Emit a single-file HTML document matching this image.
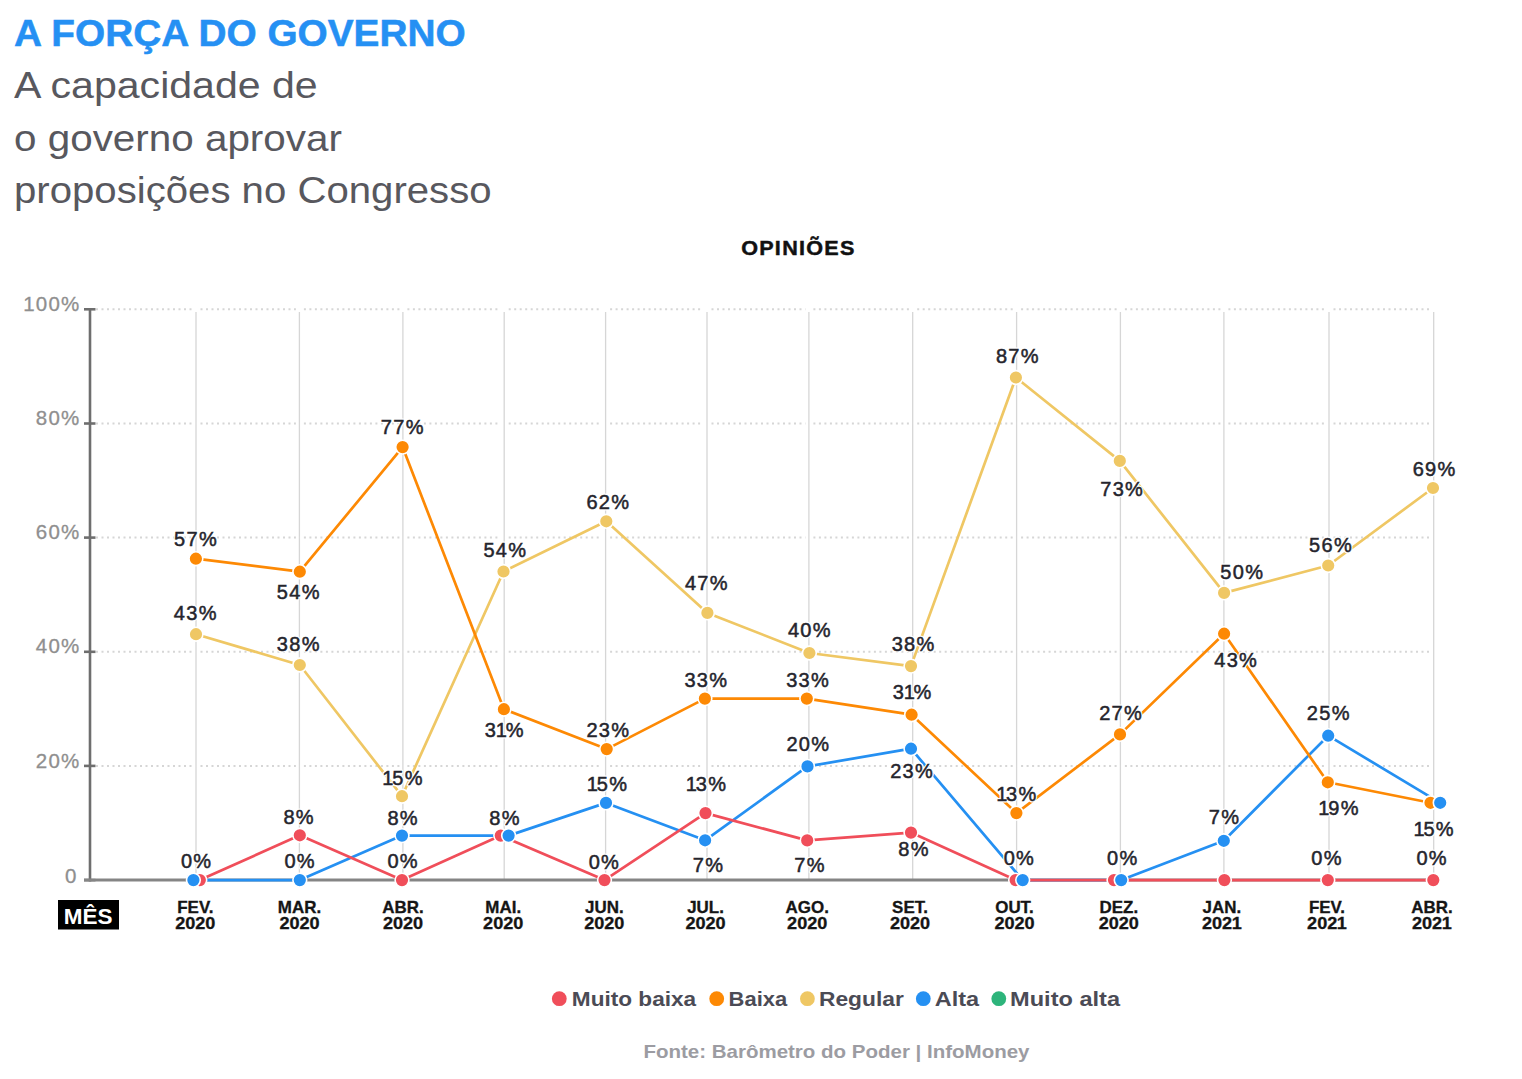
<!DOCTYPE html>
<html lang="pt-BR">
<head>
<meta charset="utf-8">
<title>A força do governo</title>
<style>
html,body{margin:0;padding:0;background:#fff;}
body{width:1522px;height:1079px;overflow:hidden;position:relative;font-family:"Liberation Sans",sans-serif;}
.t{position:absolute;white-space:nowrap;margin:0;transform-origin:0 0;}
#title{left:13.5px;top:11.9px;font-size:36px;font-weight:bold;color:#2590f3;line-height:44px;letter-spacing:0px;transform:scaleX(1.077);-webkit-text-stroke:0.5px #2590f3;}
.sub{left:13.5px;font-size:37px;color:#58585e;line-height:44px;}
#s1{top:63.6px;letter-spacing:0px;transform:scaleX(1.11);}
#s2{top:116.6px;letter-spacing:0px;transform:scaleX(1.092);}
#s3{top:168.8px;letter-spacing:0px;transform:scaleX(1.085);}
svg{position:absolute;left:0;top:0;}

</style>
</head>
<body>
<h1 class="t" id="title">A FORÇA DO GOVERNO</h1>
<div class="t sub" id="s1">A capacidade de</div>
<div class="t sub" id="s2">o governo aprovar</div>
<div class="t sub" id="s3">proposições no Congresso</div>
<svg width="1522" height="1079" viewBox="0 0 1522 1079" font-family="Liberation Sans, sans-serif">
<text transform="translate(798.4,255.3) scale(1.08,1)" text-anchor="middle" font-size="20" font-weight="bold" fill="#111" stroke="#111" stroke-width="0.45" letter-spacing="1.18">OPINIÕES</text>
<line x1="96.0" y1="765.9" x2="192.5" y2="765.9" stroke="#d6d6d6" stroke-width="2" stroke-dasharray="2 3.5"/>
<line x1="200.5" y1="765.9" x2="295.9" y2="765.9" stroke="#d6d6d6" stroke-width="2" stroke-dasharray="2 3.5"/>
<line x1="303.9" y1="765.9" x2="399.4" y2="765.9" stroke="#d6d6d6" stroke-width="2" stroke-dasharray="2 3.5"/>
<line x1="407.4" y1="765.9" x2="500.7" y2="765.9" stroke="#d6d6d6" stroke-width="2" stroke-dasharray="2 3.5"/>
<line x1="508.7" y1="765.9" x2="602.1" y2="765.9" stroke="#d6d6d6" stroke-width="2" stroke-dasharray="2 3.5"/>
<line x1="610.1" y1="765.9" x2="703.5" y2="765.9" stroke="#d6d6d6" stroke-width="2" stroke-dasharray="2 3.5"/>
<line x1="711.5" y1="765.9" x2="805.4" y2="765.9" stroke="#d6d6d6" stroke-width="2" stroke-dasharray="2 3.5"/>
<line x1="813.4" y1="765.9" x2="909.2" y2="765.9" stroke="#d6d6d6" stroke-width="2" stroke-dasharray="2 3.5"/>
<line x1="917.2" y1="765.9" x2="1013.1" y2="765.9" stroke="#d6d6d6" stroke-width="2" stroke-dasharray="2 3.5"/>
<line x1="1021.1" y1="765.9" x2="1116.9" y2="765.9" stroke="#d6d6d6" stroke-width="2" stroke-dasharray="2 3.5"/>
<line x1="1124.9" y1="765.9" x2="1220.4" y2="765.9" stroke="#d6d6d6" stroke-width="2" stroke-dasharray="2 3.5"/>
<line x1="1228.4" y1="765.9" x2="1325.5" y2="765.9" stroke="#d6d6d6" stroke-width="2" stroke-dasharray="2 3.5"/>
<line x1="1333.5" y1="765.9" x2="1430.2" y2="765.9" stroke="#d6d6d6" stroke-width="2" stroke-dasharray="2 3.5"/>
<line x1="96.0" y1="651.8" x2="192.5" y2="651.8" stroke="#d6d6d6" stroke-width="2" stroke-dasharray="2 3.5"/>
<line x1="200.5" y1="651.8" x2="295.9" y2="651.8" stroke="#d6d6d6" stroke-width="2" stroke-dasharray="2 3.5"/>
<line x1="303.9" y1="651.8" x2="399.4" y2="651.8" stroke="#d6d6d6" stroke-width="2" stroke-dasharray="2 3.5"/>
<line x1="407.4" y1="651.8" x2="500.7" y2="651.8" stroke="#d6d6d6" stroke-width="2" stroke-dasharray="2 3.5"/>
<line x1="508.7" y1="651.8" x2="602.1" y2="651.8" stroke="#d6d6d6" stroke-width="2" stroke-dasharray="2 3.5"/>
<line x1="610.1" y1="651.8" x2="703.5" y2="651.8" stroke="#d6d6d6" stroke-width="2" stroke-dasharray="2 3.5"/>
<line x1="711.5" y1="651.8" x2="805.4" y2="651.8" stroke="#d6d6d6" stroke-width="2" stroke-dasharray="2 3.5"/>
<line x1="813.4" y1="651.8" x2="909.2" y2="651.8" stroke="#d6d6d6" stroke-width="2" stroke-dasharray="2 3.5"/>
<line x1="917.2" y1="651.8" x2="1013.1" y2="651.8" stroke="#d6d6d6" stroke-width="2" stroke-dasharray="2 3.5"/>
<line x1="1021.1" y1="651.8" x2="1116.9" y2="651.8" stroke="#d6d6d6" stroke-width="2" stroke-dasharray="2 3.5"/>
<line x1="1124.9" y1="651.8" x2="1220.4" y2="651.8" stroke="#d6d6d6" stroke-width="2" stroke-dasharray="2 3.5"/>
<line x1="1228.4" y1="651.8" x2="1325.5" y2="651.8" stroke="#d6d6d6" stroke-width="2" stroke-dasharray="2 3.5"/>
<line x1="1333.5" y1="651.8" x2="1430.2" y2="651.8" stroke="#d6d6d6" stroke-width="2" stroke-dasharray="2 3.5"/>
<line x1="96.0" y1="537.6" x2="192.5" y2="537.6" stroke="#d6d6d6" stroke-width="2" stroke-dasharray="2 3.5"/>
<line x1="200.5" y1="537.6" x2="295.9" y2="537.6" stroke="#d6d6d6" stroke-width="2" stroke-dasharray="2 3.5"/>
<line x1="303.9" y1="537.6" x2="399.4" y2="537.6" stroke="#d6d6d6" stroke-width="2" stroke-dasharray="2 3.5"/>
<line x1="407.4" y1="537.6" x2="500.7" y2="537.6" stroke="#d6d6d6" stroke-width="2" stroke-dasharray="2 3.5"/>
<line x1="508.7" y1="537.6" x2="602.1" y2="537.6" stroke="#d6d6d6" stroke-width="2" stroke-dasharray="2 3.5"/>
<line x1="610.1" y1="537.6" x2="703.5" y2="537.6" stroke="#d6d6d6" stroke-width="2" stroke-dasharray="2 3.5"/>
<line x1="711.5" y1="537.6" x2="805.4" y2="537.6" stroke="#d6d6d6" stroke-width="2" stroke-dasharray="2 3.5"/>
<line x1="813.4" y1="537.6" x2="909.2" y2="537.6" stroke="#d6d6d6" stroke-width="2" stroke-dasharray="2 3.5"/>
<line x1="917.2" y1="537.6" x2="1013.1" y2="537.6" stroke="#d6d6d6" stroke-width="2" stroke-dasharray="2 3.5"/>
<line x1="1021.1" y1="537.6" x2="1116.9" y2="537.6" stroke="#d6d6d6" stroke-width="2" stroke-dasharray="2 3.5"/>
<line x1="1124.9" y1="537.6" x2="1220.4" y2="537.6" stroke="#d6d6d6" stroke-width="2" stroke-dasharray="2 3.5"/>
<line x1="1228.4" y1="537.6" x2="1325.5" y2="537.6" stroke="#d6d6d6" stroke-width="2" stroke-dasharray="2 3.5"/>
<line x1="1333.5" y1="537.6" x2="1430.2" y2="537.6" stroke="#d6d6d6" stroke-width="2" stroke-dasharray="2 3.5"/>
<line x1="96.0" y1="423.5" x2="192.5" y2="423.5" stroke="#d6d6d6" stroke-width="2" stroke-dasharray="2 3.5"/>
<line x1="200.5" y1="423.5" x2="295.9" y2="423.5" stroke="#d6d6d6" stroke-width="2" stroke-dasharray="2 3.5"/>
<line x1="303.9" y1="423.5" x2="399.4" y2="423.5" stroke="#d6d6d6" stroke-width="2" stroke-dasharray="2 3.5"/>
<line x1="407.4" y1="423.5" x2="500.7" y2="423.5" stroke="#d6d6d6" stroke-width="2" stroke-dasharray="2 3.5"/>
<line x1="508.7" y1="423.5" x2="602.1" y2="423.5" stroke="#d6d6d6" stroke-width="2" stroke-dasharray="2 3.5"/>
<line x1="610.1" y1="423.5" x2="703.5" y2="423.5" stroke="#d6d6d6" stroke-width="2" stroke-dasharray="2 3.5"/>
<line x1="711.5" y1="423.5" x2="805.4" y2="423.5" stroke="#d6d6d6" stroke-width="2" stroke-dasharray="2 3.5"/>
<line x1="813.4" y1="423.5" x2="909.2" y2="423.5" stroke="#d6d6d6" stroke-width="2" stroke-dasharray="2 3.5"/>
<line x1="917.2" y1="423.5" x2="1013.1" y2="423.5" stroke="#d6d6d6" stroke-width="2" stroke-dasharray="2 3.5"/>
<line x1="1021.1" y1="423.5" x2="1116.9" y2="423.5" stroke="#d6d6d6" stroke-width="2" stroke-dasharray="2 3.5"/>
<line x1="1124.9" y1="423.5" x2="1220.4" y2="423.5" stroke="#d6d6d6" stroke-width="2" stroke-dasharray="2 3.5"/>
<line x1="1228.4" y1="423.5" x2="1325.5" y2="423.5" stroke="#d6d6d6" stroke-width="2" stroke-dasharray="2 3.5"/>
<line x1="1333.5" y1="423.5" x2="1430.2" y2="423.5" stroke="#d6d6d6" stroke-width="2" stroke-dasharray="2 3.5"/>
<line x1="96.0" y1="309.3" x2="192.5" y2="309.3" stroke="#d6d6d6" stroke-width="2" stroke-dasharray="2 3.5"/>
<line x1="200.5" y1="309.3" x2="295.9" y2="309.3" stroke="#d6d6d6" stroke-width="2" stroke-dasharray="2 3.5"/>
<line x1="303.9" y1="309.3" x2="399.4" y2="309.3" stroke="#d6d6d6" stroke-width="2" stroke-dasharray="2 3.5"/>
<line x1="407.4" y1="309.3" x2="500.7" y2="309.3" stroke="#d6d6d6" stroke-width="2" stroke-dasharray="2 3.5"/>
<line x1="508.7" y1="309.3" x2="602.1" y2="309.3" stroke="#d6d6d6" stroke-width="2" stroke-dasharray="2 3.5"/>
<line x1="610.1" y1="309.3" x2="703.5" y2="309.3" stroke="#d6d6d6" stroke-width="2" stroke-dasharray="2 3.5"/>
<line x1="711.5" y1="309.3" x2="805.4" y2="309.3" stroke="#d6d6d6" stroke-width="2" stroke-dasharray="2 3.5"/>
<line x1="813.4" y1="309.3" x2="909.2" y2="309.3" stroke="#d6d6d6" stroke-width="2" stroke-dasharray="2 3.5"/>
<line x1="917.2" y1="309.3" x2="1013.1" y2="309.3" stroke="#d6d6d6" stroke-width="2" stroke-dasharray="2 3.5"/>
<line x1="1021.1" y1="309.3" x2="1116.9" y2="309.3" stroke="#d6d6d6" stroke-width="2" stroke-dasharray="2 3.5"/>
<line x1="1124.9" y1="309.3" x2="1220.4" y2="309.3" stroke="#d6d6d6" stroke-width="2" stroke-dasharray="2 3.5"/>
<line x1="1228.4" y1="309.3" x2="1325.5" y2="309.3" stroke="#d6d6d6" stroke-width="2" stroke-dasharray="2 3.5"/>
<line x1="1333.5" y1="309.3" x2="1430.2" y2="309.3" stroke="#d6d6d6" stroke-width="2" stroke-dasharray="2 3.5"/>
<line x1="196" y1="312" x2="196" y2="880.1" stroke="#d6d6d6" stroke-width="1.3"/>
<line x1="299.4" y1="312" x2="299.4" y2="880.1" stroke="#d6d6d6" stroke-width="1.3"/>
<line x1="402.9" y1="312" x2="402.9" y2="880.1" stroke="#d6d6d6" stroke-width="1.3"/>
<line x1="504.2" y1="312" x2="504.2" y2="880.1" stroke="#d6d6d6" stroke-width="1.3"/>
<line x1="605.6" y1="312" x2="605.6" y2="880.1" stroke="#d6d6d6" stroke-width="1.3"/>
<line x1="707" y1="312" x2="707" y2="880.1" stroke="#d6d6d6" stroke-width="1.3"/>
<line x1="808.9" y1="312" x2="808.9" y2="880.1" stroke="#d6d6d6" stroke-width="1.3"/>
<line x1="912.7" y1="312" x2="912.7" y2="880.1" stroke="#d6d6d6" stroke-width="1.3"/>
<line x1="1016.6" y1="312" x2="1016.6" y2="880.1" stroke="#d6d6d6" stroke-width="1.3"/>
<line x1="1120.4" y1="312" x2="1120.4" y2="880.1" stroke="#d6d6d6" stroke-width="1.3"/>
<line x1="1223.9" y1="312" x2="1223.9" y2="880.1" stroke="#d6d6d6" stroke-width="1.3"/>
<line x1="1329" y1="312" x2="1329" y2="880.1" stroke="#d6d6d6" stroke-width="1.3"/>
<line x1="1433.7" y1="312" x2="1433.7" y2="880.1" stroke="#d6d6d6" stroke-width="1.3"/>
<line x1="90" y1="308.8" x2="90" y2="881.6" stroke="#6e6e6e" stroke-width="2.6"/>
<line x1="84" y1="880.1" x2="95.5" y2="880.1" stroke="#6e6e6e" stroke-width="2.6"/>
<line x1="84" y1="765.9" x2="95.5" y2="765.9" stroke="#6e6e6e" stroke-width="2.6"/>
<line x1="84" y1="651.8" x2="95.5" y2="651.8" stroke="#6e6e6e" stroke-width="2.6"/>
<line x1="84" y1="537.6" x2="95.5" y2="537.6" stroke="#6e6e6e" stroke-width="2.6"/>
<line x1="84" y1="423.5" x2="95.5" y2="423.5" stroke="#6e6e6e" stroke-width="2.6"/>
<line x1="84" y1="309.3" x2="95.5" y2="309.3" stroke="#6e6e6e" stroke-width="2.6"/>
<line x1="84" y1="880.1" x2="1436" y2="880.1" stroke="#858585" stroke-width="3"/>
<text x="76.3" y="882.5" text-anchor="end" font-size="20.5" fill="#8f8f8f" stroke="#8f8f8f" stroke-width="0.3">0</text>
<text x="80.5" y="767.5" text-anchor="end" font-size="20.5" fill="#8f8f8f" stroke="#8f8f8f" stroke-width="0.3" letter-spacing="1.2">20%</text>
<text x="80.5" y="653.4" text-anchor="end" font-size="20.5" fill="#8f8f8f" stroke="#8f8f8f" stroke-width="0.3" letter-spacing="1.2">40%</text>
<text x="80.5" y="539.2" text-anchor="end" font-size="20.5" fill="#8f8f8f" stroke="#8f8f8f" stroke-width="0.3" letter-spacing="1.2">60%</text>
<text x="80.5" y="425.1" text-anchor="end" font-size="20.5" fill="#8f8f8f" stroke="#8f8f8f" stroke-width="0.3" letter-spacing="1.2">80%</text>
<text x="80.5" y="310.9" text-anchor="end" font-size="20.5" fill="#8f8f8f" stroke="#8f8f8f" stroke-width="0.3" letter-spacing="1.2">100%</text>
<polyline points="193.4,880.1 299.8,880.1 402.0,835.6 508.6,835.6 606.0,802.9 705.1,840.3 807.5,766.4 911.0,748.7 1022.7,880.1 1121.2,880.1 1223.8,840.8 1328.2,735.7 1440.2,802.8" fill="none" stroke="#2590f2" stroke-width="2.7" stroke-linejoin="round"/>
<polyline points="196.0,634.2 299.8,665.0 402.0,796.2 503.5,571.5 606.3,521.3 707.4,612.9 809.4,653.0 911.0,666.1 1015.9,377.5 1119.8,460.9 1224.1,592.9 1328.2,565.5 1433.0,488.0" fill="none" stroke="#efc764" stroke-width="2.7" stroke-linejoin="round"/>
<polyline points="195.9,558.7 299.8,571.7 402.6,447.1 503.9,709.2 606.7,749.1 704.9,698.6 806.8,698.6 911.6,714.7 1016.4,813.1 1120.0,734.4 1224.1,633.7 1327.8,782.3 1430.5,802.8" fill="none" stroke="#fd8904" stroke-width="2.7" stroke-linejoin="round"/>
<polyline points="199.8,880.1 299.8,835.3 402.0,880.1 500.8,835.6 604.5,880.1 705.5,813.1 807.2,840.4 911.0,832.6 1015.6,880.1 1114.0,880.1 1224.4,880.1 1327.8,880.1 1433.3,880.1" fill="none" stroke="#f04e5a" stroke-width="2.7" stroke-linejoin="round"/>
<circle cx="199.8" cy="880.1" r="6.9" fill="#f04e5a" stroke="#fff" stroke-width="1.6"/>
<circle cx="299.8" cy="835.3" r="6.9" fill="#f04e5a" stroke="#fff" stroke-width="1.6"/>
<circle cx="402" cy="880.1" r="6.9" fill="#f04e5a" stroke="#fff" stroke-width="1.6"/>
<circle cx="500.8" cy="835.6" r="6.9" fill="#f04e5a" stroke="#fff" stroke-width="1.6"/>
<circle cx="604.5" cy="880.1" r="6.9" fill="#f04e5a" stroke="#fff" stroke-width="1.6"/>
<circle cx="705.5" cy="813.1" r="6.9" fill="#f04e5a" stroke="#fff" stroke-width="1.6"/>
<circle cx="807.2" cy="840.4" r="6.9" fill="#f04e5a" stroke="#fff" stroke-width="1.6"/>
<circle cx="911" cy="832.6" r="6.9" fill="#f04e5a" stroke="#fff" stroke-width="1.6"/>
<circle cx="1015.6" cy="880.1" r="6.9" fill="#f04e5a" stroke="#fff" stroke-width="1.6"/>
<circle cx="1114" cy="880.1" r="6.9" fill="#f04e5a" stroke="#fff" stroke-width="1.6"/>
<circle cx="1224.4" cy="880.1" r="6.9" fill="#f04e5a" stroke="#fff" stroke-width="1.6"/>
<circle cx="1327.8" cy="880.1" r="6.9" fill="#f04e5a" stroke="#fff" stroke-width="1.6"/>
<circle cx="1433.3" cy="880.1" r="6.9" fill="#f04e5a" stroke="#fff" stroke-width="1.6"/>
<circle cx="195.9" cy="558.7" r="6.9" fill="#fd8904" stroke="#fff" stroke-width="1.6"/>
<circle cx="299.8" cy="571.7" r="6.9" fill="#fd8904" stroke="#fff" stroke-width="1.6"/>
<circle cx="402.6" cy="447.1" r="6.9" fill="#fd8904" stroke="#fff" stroke-width="1.6"/>
<circle cx="503.9" cy="709.2" r="6.9" fill="#fd8904" stroke="#fff" stroke-width="1.6"/>
<circle cx="606.7" cy="749.1" r="6.9" fill="#fd8904" stroke="#fff" stroke-width="1.6"/>
<circle cx="704.9" cy="698.6" r="6.9" fill="#fd8904" stroke="#fff" stroke-width="1.6"/>
<circle cx="806.8" cy="698.6" r="6.9" fill="#fd8904" stroke="#fff" stroke-width="1.6"/>
<circle cx="911.6" cy="714.7" r="6.9" fill="#fd8904" stroke="#fff" stroke-width="1.6"/>
<circle cx="1016.4" cy="813.1" r="6.9" fill="#fd8904" stroke="#fff" stroke-width="1.6"/>
<circle cx="1120" cy="734.4" r="6.9" fill="#fd8904" stroke="#fff" stroke-width="1.6"/>
<circle cx="1224.1" cy="633.7" r="6.9" fill="#fd8904" stroke="#fff" stroke-width="1.6"/>
<circle cx="1327.8" cy="782.3" r="6.9" fill="#fd8904" stroke="#fff" stroke-width="1.6"/>
<circle cx="1430.5" cy="802.8" r="6.9" fill="#fd8904" stroke="#fff" stroke-width="1.6"/>
<circle cx="196" cy="634.2" r="6.9" fill="#efc764" stroke="#fff" stroke-width="1.6"/>
<circle cx="299.8" cy="665" r="6.9" fill="#efc764" stroke="#fff" stroke-width="1.6"/>
<circle cx="402" cy="796.2" r="6.9" fill="#efc764" stroke="#fff" stroke-width="1.6"/>
<circle cx="503.5" cy="571.5" r="6.9" fill="#efc764" stroke="#fff" stroke-width="1.6"/>
<circle cx="606.3" cy="521.3" r="6.9" fill="#efc764" stroke="#fff" stroke-width="1.6"/>
<circle cx="707.4" cy="612.9" r="6.9" fill="#efc764" stroke="#fff" stroke-width="1.6"/>
<circle cx="809.4" cy="653" r="6.9" fill="#efc764" stroke="#fff" stroke-width="1.6"/>
<circle cx="911" cy="666.1" r="6.9" fill="#efc764" stroke="#fff" stroke-width="1.6"/>
<circle cx="1015.9" cy="377.5" r="6.9" fill="#efc764" stroke="#fff" stroke-width="1.6"/>
<circle cx="1119.8" cy="460.9" r="6.9" fill="#efc764" stroke="#fff" stroke-width="1.6"/>
<circle cx="1224.1" cy="592.9" r="6.9" fill="#efc764" stroke="#fff" stroke-width="1.6"/>
<circle cx="1328.2" cy="565.5" r="6.9" fill="#efc764" stroke="#fff" stroke-width="1.6"/>
<circle cx="1433" cy="488" r="6.9" fill="#efc764" stroke="#fff" stroke-width="1.6"/>
<circle cx="193.4" cy="880.1" r="6.9" fill="#2590f2" stroke="#fff" stroke-width="1.6"/>
<circle cx="299.8" cy="880.1" r="6.9" fill="#2590f2" stroke="#fff" stroke-width="1.6"/>
<circle cx="402" cy="835.6" r="6.9" fill="#2590f2" stroke="#fff" stroke-width="1.6"/>
<circle cx="508.6" cy="835.6" r="6.9" fill="#2590f2" stroke="#fff" stroke-width="1.6"/>
<circle cx="606" cy="802.9" r="6.9" fill="#2590f2" stroke="#fff" stroke-width="1.6"/>
<circle cx="705.1" cy="840.3" r="6.9" fill="#2590f2" stroke="#fff" stroke-width="1.6"/>
<circle cx="807.5" cy="766.4" r="6.9" fill="#2590f2" stroke="#fff" stroke-width="1.6"/>
<circle cx="911" cy="748.7" r="6.9" fill="#2590f2" stroke="#fff" stroke-width="1.6"/>
<circle cx="1022.7" cy="880.1" r="6.9" fill="#2590f2" stroke="#fff" stroke-width="1.6"/>
<circle cx="1121.2" cy="880.1" r="6.9" fill="#2590f2" stroke="#fff" stroke-width="1.6"/>
<circle cx="1223.8" cy="840.8" r="6.9" fill="#2590f2" stroke="#fff" stroke-width="1.6"/>
<circle cx="1328.2" cy="735.7" r="6.9" fill="#2590f2" stroke="#fff" stroke-width="1.6"/>
<circle cx="1440.2" cy="802.8" r="6.9" fill="#2590f2" stroke="#fff" stroke-width="1.6"/>
<g font-size="20" fill="#fff" stroke="#fff" stroke-width="3" stroke-linejoin="round" text-anchor="middle" letter-spacing="1.3">
<text x="195.8" y="620">43%</text>
<text x="298.8" y="650.8">38%</text>
<text x="403.0" y="785">1<tspan dx="-2.5">5</tspan>%</text>
<text x="505.4" y="557">54%</text>
<text x="608.4" y="509.2">62%</text>
<text x="706.9" y="590.4">47%</text>
<text x="809.9" y="637.1">40%</text>
<text x="913.6" y="651.1">38%</text>
<text x="1017.9" y="363.4">87%</text>
<text x="1122.2" y="496">73%</text>
<text x="1242.3" y="579.3">50%</text>
<text x="1331.0" y="552.2">56%</text>
<text x="1434.6" y="475.5">69%</text>
<text x="196.0" y="546.2">57%</text>
<text x="298.8" y="599.2">54%</text>
<text x="402.8" y="434.1">77%</text>
<text x="504.8" y="737">3<tspan dx="-1.5">1</tspan><tspan dx="-2.5">%</tspan></text>
<text x="608.4" y="736.7">23%</text>
<text x="706.4" y="686.8">33%</text>
<text x="808.1" y="686.8">33%</text>
<text x="912.7" y="699.4">3<tspan dx="-1.5">1</tspan><tspan dx="-2.5">%</tspan></text>
<text x="1016.9" y="801">1<tspan dx="-2.5">3</tspan>%</text>
<text x="1121.1" y="720.2">27%</text>
<text x="1236.2" y="666.8">43%</text>
<text x="1339.1" y="814.6">1<tspan dx="-2.5">9</tspan>%</text>
<text x="1434.2" y="835.5">1<tspan dx="-2.5">5</tspan>%</text>
<text x="196.7" y="868.3">0%</text>
<text x="300.2" y="868.3">0%</text>
<text x="403.2" y="824.7">8%</text>
<text x="505.1" y="824.7">8%</text>
<text x="607.6" y="790.5">1<tspan dx="-2.5">5</tspan>%</text>
<text x="708.6" y="871.5">7%</text>
<text x="808.4" y="750.9">20%</text>
<text x="912.1" y="777.5">23%</text>
<text x="1224.5" y="824">7%</text>
<text x="1328.8" y="720">25%</text>
<text x="299.2" y="823.9">8%</text>
<text x="403.2" y="867.6">0%</text>
<text x="604.4" y="868.7">0%</text>
<text x="706.6" y="790.5">1<tspan dx="-2.5">3</tspan>%</text>
<text x="810.1" y="871.8">7%</text>
<text x="914.1" y="856">8%</text>
<text x="1019.4" y="864.6">0%</text>
<text x="1122.8" y="864.6">0%</text>
<text x="1327.0" y="864.5">0%</text>
<text x="1432.2" y="864.5">0%</text>
</g>
<g font-size="20" fill="#25252d" stroke="#25252d" stroke-width="0.5" text-anchor="middle" letter-spacing="1.3">
<text x="195.8" y="620">43%</text>
<text x="298.8" y="650.8">38%</text>
<text x="403.0" y="785">1<tspan dx="-2.5">5</tspan>%</text>
<text x="505.4" y="557">54%</text>
<text x="608.4" y="509.2">62%</text>
<text x="706.9" y="590.4">47%</text>
<text x="809.9" y="637.1">40%</text>
<text x="913.6" y="651.1">38%</text>
<text x="1017.9" y="363.4">87%</text>
<text x="1122.2" y="496">73%</text>
<text x="1242.3" y="579.3">50%</text>
<text x="1331.0" y="552.2">56%</text>
<text x="1434.6" y="475.5">69%</text>
<text x="196.0" y="546.2">57%</text>
<text x="298.8" y="599.2">54%</text>
<text x="402.8" y="434.1">77%</text>
<text x="504.8" y="737">3<tspan dx="-1.5">1</tspan><tspan dx="-2.5">%</tspan></text>
<text x="608.4" y="736.7">23%</text>
<text x="706.4" y="686.8">33%</text>
<text x="808.1" y="686.8">33%</text>
<text x="912.7" y="699.4">3<tspan dx="-1.5">1</tspan><tspan dx="-2.5">%</tspan></text>
<text x="1016.9" y="801">1<tspan dx="-2.5">3</tspan>%</text>
<text x="1121.1" y="720.2">27%</text>
<text x="1236.2" y="666.8">43%</text>
<text x="1339.1" y="814.6">1<tspan dx="-2.5">9</tspan>%</text>
<text x="1434.2" y="835.5">1<tspan dx="-2.5">5</tspan>%</text>
<text x="196.7" y="868.3">0%</text>
<text x="300.2" y="868.3">0%</text>
<text x="403.2" y="824.7">8%</text>
<text x="505.1" y="824.7">8%</text>
<text x="607.6" y="790.5">1<tspan dx="-2.5">5</tspan>%</text>
<text x="708.6" y="871.5">7%</text>
<text x="808.4" y="750.9">20%</text>
<text x="912.1" y="777.5">23%</text>
<text x="1224.5" y="824">7%</text>
<text x="1328.8" y="720">25%</text>
<text x="299.2" y="823.9">8%</text>
<text x="403.2" y="867.6">0%</text>
<text x="604.4" y="868.7">0%</text>
<text x="706.6" y="790.5">1<tspan dx="-2.5">3</tspan>%</text>
<text x="810.1" y="871.8">7%</text>
<text x="914.1" y="856">8%</text>
<text x="1019.4" y="864.6">0%</text>
<text x="1122.8" y="864.6">0%</text>
<text x="1327.0" y="864.5">0%</text>
<text x="1432.2" y="864.5">0%</text>
</g>
<g font-size="16" font-weight="bold" fill="#151515" stroke="#151515" stroke-width="0.3" text-anchor="middle">
<text transform="translate(195.3,913) scale(1.06,1)">FEV.</text><text transform="translate(195.3,929.4) scale(1.13,1)">2020</text>
<text transform="translate(299.5,913) scale(1.06,1)">MAR.</text><text transform="translate(299.5,929.4) scale(1.13,1)">2020</text>
<text transform="translate(403.0,913) scale(1.06,1)">ABR.</text><text transform="translate(403.0,929.4) scale(1.13,1)">2020</text>
<text transform="translate(503.2,913) scale(1.06,1)">MAI.</text><text transform="translate(503.2,929.4) scale(1.13,1)">2020</text>
<text transform="translate(604.3,913) scale(1.06,1)">JUN.</text><text transform="translate(604.3,929.4) scale(1.13,1)">2020</text>
<text transform="translate(705.5,913) scale(1.06,1)">JUL.</text><text transform="translate(705.5,929.4) scale(1.13,1)">2020</text>
<text transform="translate(807.2,913) scale(1.06,1)">AGO.</text><text transform="translate(807.2,929.4) scale(1.13,1)">2020</text>
<text transform="translate(910.0,913) scale(1.06,1)">SET.</text><text transform="translate(910.0,929.4) scale(1.13,1)">2020</text>
<text transform="translate(1014.5,913) scale(1.06,1)">OUT.</text><text transform="translate(1014.5,929.4) scale(1.13,1)">2020</text>
<text transform="translate(1118.8,913) scale(1.06,1)">DEZ.</text><text transform="translate(1118.8,929.4) scale(1.13,1)">2020</text>
<text transform="translate(1221.8,913) scale(1.06,1)">JAN.</text><text transform="translate(1221.8,929.4) scale(1.13,1)">202<tspan dx="-0.3">1</tspan></text>
<text transform="translate(1327.0,913) scale(1.06,1)">FEV.</text><text transform="translate(1327.0,929.4) scale(1.13,1)">202<tspan dx="-0.3">1</tspan></text>
<text transform="translate(1431.9,913) scale(1.06,1)">ABR.</text><text transform="translate(1431.9,929.4) scale(1.13,1)">202<tspan dx="-0.3">1</tspan></text>
</g>
<rect x="58" y="900" width="61" height="29.5" fill="#000"/>
<text x="88.2" y="923.5" text-anchor="middle" font-size="22.5" font-weight="bold" fill="#fff">MÊS</text>
<circle cx="559.3" cy="998.7" r="7.4" fill="#f04e5a"/>
<text transform="translate(571.8,1006) scale(1.131,1)" font-size="20" font-weight="bold" fill="#4b4b55">Muito baixa</text>
<circle cx="716.7" cy="998.7" r="7.4" fill="#fd8904"/>
<text transform="translate(728.6,1006) scale(1.098,1)" font-size="20" font-weight="bold" fill="#4b4b55">Baixa</text>
<circle cx="807.4" cy="998.7" r="7.4" fill="#efc764"/>
<text transform="translate(819.0,1006) scale(1.139,1)" font-size="20" font-weight="bold" fill="#4b4b55">Regular</text>
<circle cx="923.3" cy="998.7" r="7.4" fill="#2590f2"/>
<text transform="translate(934.8,1006) scale(1.175,1)" font-size="20" font-weight="bold" fill="#4b4b55">Alta</text>
<circle cx="998.8" cy="998.7" r="7.4" fill="#2db47b"/>
<text transform="translate(1010.1,1006) scale(1.178,1)" font-size="20" font-weight="bold" fill="#4b4b55">Muito alta</text>
<text transform="translate(643.4,1057.8) scale(1.109,1)" font-size="18.5" font-weight="bold" fill="#9c9ca2">Fonte: Barômetro do Poder | InfoMoney</text>
</svg>
</body>
</html>
